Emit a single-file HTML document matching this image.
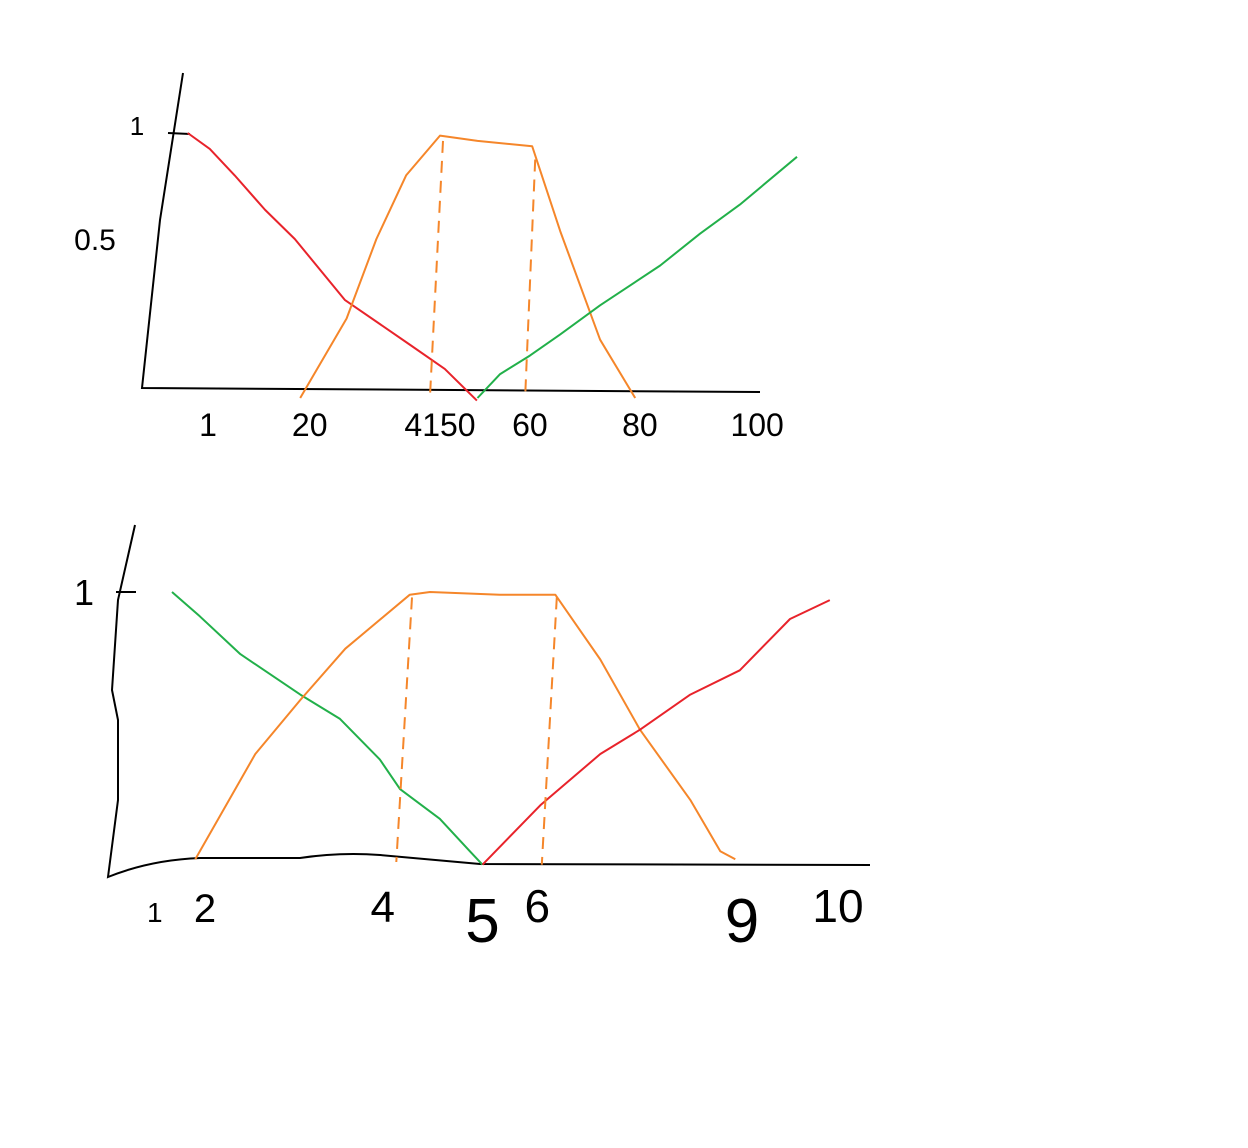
<!DOCTYPE html>
<html><head><meta charset="utf-8"><style>
html,body{margin:0;padding:0;background:#fff;}
svg{display:block;}
text{font-family:"Liberation Sans",sans-serif;fill:#000;}
</style></head><body>
<svg id="chart" width="1248" height="1148" viewBox="0 0 1248 1148" xmlns="http://www.w3.org/2000/svg">
<g id="top"></g>
<g id="bottom"></g>
</svg>
<script>
// ---- top chart data ----
const topRed = [[1.3,1],[5,0.94],[9.2,0.84],[14.3,0.71],[19.3,0.6],[27.7,0.37],[38.7,0.2],[44.5,0.11],[49.9,-0.01]];
const topOrange = [[20.2,0],[28,0.3],[33,0.6],[38,0.84],[43.7,0.99],[50,0.97],[59.2,0.95],[63.9,0.63],[70.6,0.22],[76.5,0]];
const topGreen = [[50,0],[53.8,0.09],[58.8,0.16],[63.9,0.24],[70.6,0.35],[80.7,0.5],[87.4,0.62],[94.1,0.73],[103.7,0.91]];
const topDash1 = [[44.2,0.97],[42,0]];
const topDash2 = [[59.7,0.9],[58,0]];
const topTickVals = [4.7,21.8,43.7,58.8,77.3,97];
const topTickLabels = ["1","20","4150","60","80","100"];
// ---- bottom chart data ----
const botGreen = [[0.96,1.0],[1.33,0.91],[1.87,0.77],[2.67,0.62],[3.2,0.53],[3.73,0.38],[4,0.27],[4.53,0.16],[4.93,0.04],[5.1,-0.01]];
const botOrange = [[1.27,0.01],[2.07,0.4],[2.67,0.6],[3.27,0.79],[4.13,0.99],[4.4,1.0],[5.33,0.99],[6.07,0.99],[6.67,0.75],[7.2,0.49],[7.87,0.23],[8.27,0.04],[8.47,0.01]];
const botRed = [[5.1,-0.01],[5.87,0.21],[6.67,0.4],[7.2,0.49],[7.87,0.62],[8.53,0.71],[9.2,0.9],[9.73,0.97]];
const botDash1 = [[4.16,0.98],[3.95,0]];
const botDash2 = [[6.09,0.98],[5.89,-0.01]];
const botTickVals = [0.73,1.4,3.77,5.1,5.83,8.56,9.84];
const botTickLabels = ["1","2","4","5","6","9","10"];

const NS="http://www.w3.org/2000/svg";
const topX=v=>180+v*5.95, topY=v=>398-v*265;
const botX=v=>100+v*75, botY=v=>862-v*270;

function poly(g,pts,sx,sy,color,name,dash){
  const p=document.createElementNS(NS,'polyline');
  p.setAttribute('points',pts.map(d=>sx(d[0]).toFixed(1)+','+sy(d[1]).toFixed(1)).join(' '));
  p.setAttribute('fill','none');p.setAttribute('stroke',color);p.setAttribute('stroke-width','2');
  p.setAttribute('stroke-linejoin','round');
  if(dash)p.setAttribute('stroke-dasharray','12 8');
  
  
  g.appendChild(p);
}
function raw(g,d,name){
  const p=document.createElementNS(NS,'path');
  p.setAttribute('d',d);p.setAttribute('fill','none');p.setAttribute('stroke','#000');p.setAttribute('stroke-width','2');
  
  
  g.appendChild(p);
}
function txt(g,x,y,s,size,name){
  const t=document.createElementNS(NS,'text');
  t.setAttribute('x',x);t.setAttribute('y',y);t.setAttribute('font-size',size);t.setAttribute('text-anchor','middle');
  t.textContent=s;
  
  
  g.appendChild(t);
}
const gt=document.getElementById('top'), gb=document.getElementById('bottom');
raw(gt,'M183 73 L160 220 L142 388 L760 392','top-axes');
raw(gt,'M168 133 L190 134','top-y-tick-1');
txt(gt,137,135,'1',26,'top-y-label-1');
txt(gt,95,250,'0.5',30,'top-y-label-0-5');
poly(gt,topRed,topX,topY,'#e8232b','top-red-line');
poly(gt,topOrange,topX,topY,'#f5862a','top-orange-line');
poly(gt,topGreen,topX,topY,'#22b04a','top-green-line');
poly(gt,topDash1,topX,topY,'#f5862a','top-dash-45',true);
poly(gt,topDash2,topX,topY,'#f5862a','top-dash-60',true);
topTickVals.forEach((v,i)=>txt(gt,topX(v),436,topTickLabels[i],32,'top-x-label-'+topTickLabels[i]));
raw(gb,'M135 525 L118 600 L112 690 L118 720 L118 800 L108 877 Q150 860 200 858 L300 858 Q340 852 380 855 L480 864 L870 865','bottom-axes');
raw(gb,'M116 592 L136 592','bottom-y-tick-1');
txt(gb,84,605,'1',36,'bottom-y-label-1');
poly(gb,botGreen,botX,botY,'#22b04a','bottom-green-line');
poly(gb,botOrange,botX,botY,'#f5862a','bottom-orange-line');
poly(gb,botRed,botX,botY,'#e8232b','bottom-red-line');
poly(gb,botDash1,botX,botY,'#f5862a','bottom-dash-4',true);
poly(gb,botDash2,botX,botY,'#f5862a','bottom-dash-6',true);
const sizes=[28,40,44,62,46,62,46];
botTickVals.forEach((v,i)=>txt(gb,botX(v),i===3||i===5?942:922,botTickLabels[i],sizes[i],'bottom-x-label-'+botTickLabels[i]));
</script>
</body></html>
